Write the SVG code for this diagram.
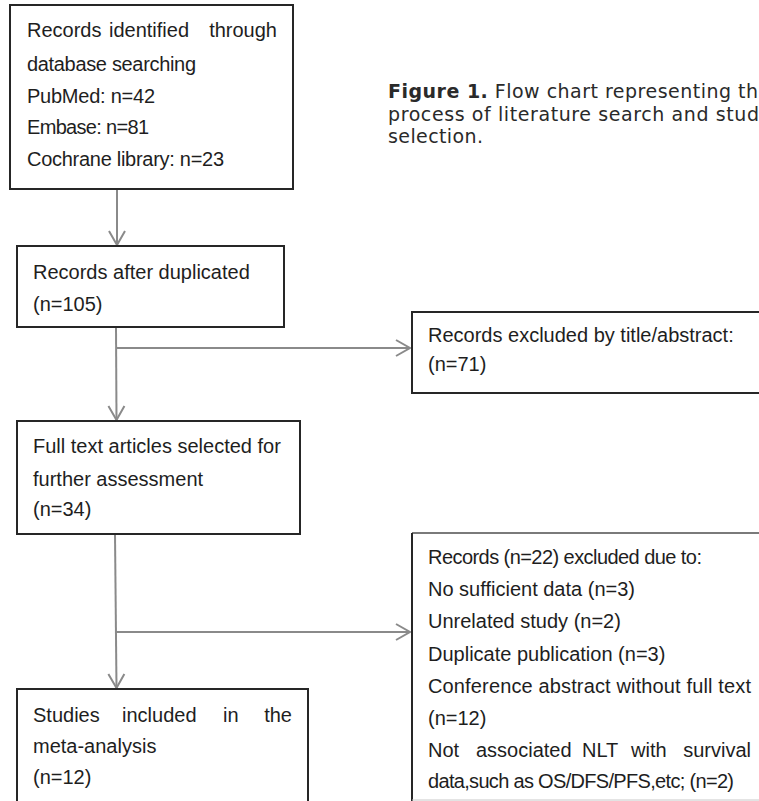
<svg xmlns="http://www.w3.org/2000/svg" width="759" height="801" viewBox="0 0 759 801">
<style>
  .box { fill: #ffffff; stroke: #262626; stroke-width: 2; }
  .open { fill: none; stroke: #262626; stroke-width: 2; }
  .t { font-family: "Liberation Sans", Arial, sans-serif; font-size: 20px; fill: #1e1e1e; }
  .cap { font-family: "DejaVu Sans", "Liberation Sans", sans-serif; font-size: 19px; fill: #2a2a2a; }
  .conn { fill: none; stroke: #8a8a8a; stroke-width: 2; }
</style>
<defs>
  <marker id="arr" viewBox="-16 -10 18 20" refX="0" refY="0" markerWidth="18" markerHeight="20" markerUnits="userSpaceOnUse" orient="auto">
    <path d="M-14,-8 L0,0 L-14,8" fill="none" stroke="#8a8a8a" stroke-width="2"/>
  </marker>
</defs>
<rect width="759" height="801" fill="#ffffff"/>

<g id="caption">
  <text class="cap" x="388" y="98" textLength="370" lengthAdjust="spacing"><tspan font-weight="bold">Figure 1.</tspan> Flow chart representing th</text>
  <text class="cap" x="388" y="121" textLength="371" lengthAdjust="spacing">process of literature search and stud</text>
  <text class="cap" x="388" y="143" textLength="95" lengthAdjust="spacing">selection.</text>
</g>

<g id="connectors">
  <line class="conn" x1="117" y1="189" x2="117" y2="245" marker-end="url(#arr)"/>
  <line class="conn" x1="116" y1="327" x2="116.5" y2="420" marker-end="url(#arr)"/>
  <line class="conn" x1="116" y1="348" x2="410" y2="348" marker-end="url(#arr)"/>
  <line class="conn" x1="115" y1="534" x2="116.5" y2="688" marker-end="url(#arr)"/>
  <line class="conn" x1="115.5" y1="632" x2="410" y2="632" marker-end="url(#arr)"/>
</g>

<g id="identified">
  <rect class="box" x="10" y="5" width="283" height="184"/>
  <text class="t" y="37"><tspan x="27">Records</tspan><tspan x="109">identified</tspan><tspan x="277" text-anchor="end">through</tspan></text>
  <text class="t" x="27" y="71" textLength="169" lengthAdjust="spacing">database searching</text>
  <text class="t" x="27" y="103" textLength="128" lengthAdjust="spacing">PubMed: n=42</text>
  <text class="t" x="27" y="134" textLength="122" lengthAdjust="spacing">Embase: n=81</text>
  <text class="t" x="27" y="166" textLength="197" lengthAdjust="spacing">Cochrane library: n=23</text>
</g>

<g id="after-duplicates">
  <rect class="box" x="17" y="246" width="267" height="81"/>
  <text class="t" x="33" y="279">Records after duplicated</text>
  <text class="t" x="33" y="311">(n=105)</text>
</g>

<g id="excluded-title">
  <path class="open" d="M760,312 H412 V393 H760"/>
  <text class="t" x="428" y="342">Records excluded by title/abstract:</text>
  <text class="t" x="428" y="371">(n=71)</text>
</g>

<g id="full-text">
  <rect class="box" x="17" y="421" width="283" height="113"/>
  <text class="t" x="33" y="453">Full text articles selected for</text>
  <text class="t" x="33" y="486">further assessment</text>
  <text class="t" x="33" y="516">(n=34)</text>
</g>

<g id="excluded-full">
  <path d="M760,533 H412" fill="none" stroke="#7a7a7a" stroke-width="2"/>
  <path d="M412,533 V801" fill="none" stroke="#262626" stroke-width="2"/>
  <path d="M412,800 H760" fill="none" stroke="#c8c8c8" stroke-width="1"/>
  <text class="t" x="428" y="564" textLength="274" lengthAdjust="spacing">Records (n=22) excluded due to:</text>
  <text class="t" x="428" y="596">No sufficient data (n=3)</text>
  <text class="t" x="428" y="628">Unrelated study (n=2)</text>
  <text class="t" x="428" y="661">Duplicate publication (n=3)</text>
  <text class="t" x="428" y="693" textLength="323" lengthAdjust="spacing">Conference abstract without full text</text>
  <text class="t" x="428" y="725">(n=12)</text>
  <text class="t" y="757"><tspan x="428">Not</tspan><tspan x="476">associated</tspan><tspan x="582">NLT</tspan><tspan x="631">with</tspan><tspan x="751" text-anchor="end">survival</tspan></text>
  <text class="t" x="428" y="788" textLength="306" lengthAdjust="spacing">data,such as OS/DFS/PFS,etc; (n=2)</text>
</g>

<g id="included">
  <path class="open" d="M17,802 V689 H308 V802"/>
  <text class="t" y="722"><tspan x="33">Studies</tspan><tspan x="122">included</tspan><tspan x="223">in</tspan><tspan x="292" text-anchor="end">the</tspan></text>
  <text class="t" x="33" y="753">meta-analysis</text>
  <text class="t" x="33" y="784">(n=12)</text>
</g>
</svg>
